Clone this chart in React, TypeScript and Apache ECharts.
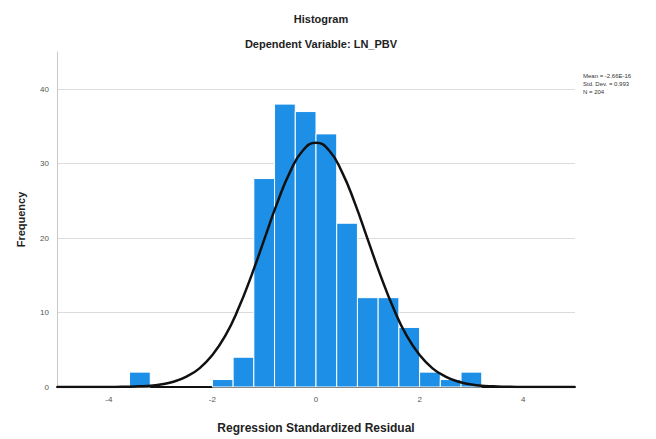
import React, { useEffect, useRef } from "react";
import * as echarts from "echarts";

const binStarts = [-3.6, -2.0, -1.6, -1.2, -0.8, -0.4, 0.0, 0.4, 0.8, 1.2, 1.6, 2.0, 2.4, 2.8];
const binCounts = [2, 1, 4, 28, 38, 37, 34, 22, 12, 12, 8, 2, 1, 2];
const binWidth = 0.4;

const curveX = [-5, -4.5, -4, -3.75, -3.5, -3.25, -3, -2.75, -2.5, -2.25, -2, -1.75, -1.5, -1.25, -1, -0.75, -0.5, -0.25, 0,
  0.25, 0.5, 0.75, 1, 1.25, 1.5, 1.75, 2, 2.25, 2.5, 2.75, 3, 3.25, 3.5, 3.75, 4, 4.5, 5];
const curveY = [0, 0, 0.01, 0.03, 0.07, 0.15, 0.34, 0.71, 1.4, 2.5, 4.3, 6.9, 10.5, 14.9, 19.8, 24.7, 28.9, 31.8, 32.8,
  31.8, 28.9, 24.7, 19.8, 14.9, 10.5, 6.9, 4.3, 2.5, 1.4, 0.71, 0.34, 0.15, 0.07, 0.03, 0.01, 0, 0];

const statsLines = ["Mean = -2.66E-16", "Std. Dev. = 0.993", "N = 204"];
const titleText = "Histogram";
const subtitleText = "Dependent Variable: LN_PBV";
const xName = "Regression Standardized Residual";
const yName = "Frequency";

const FONT = "'Liberation Sans', Arial, sans-serif";

export default function App() {
  const ref = useRef<HTMLDivElement>(null);
  useEffect(() => {
    if (!ref.current) return;
    const chart = echarts.init(ref.current, null, { renderer: "svg" });
    const barData = binStarts.map((s, i) => [s, +(s + binWidth).toFixed(2), binCounts[i]]);
    const lineData = curveX.map((x, i) => [x, curveY[i]]);
    chart.setOption({
      animation: false,
      backgroundColor: "#ffffff",
      textStyle: { fontFamily: FONT },
      title: [
        {
          text: titleText,
          left: 316,
          top: 8,
          textAlign: "center",
          textStyle: { fontSize: 11, fontWeight: "bold", color: "#222", fontFamily: FONT },
        },
        {
          text: subtitleText,
          left: 316,
          top: 33,
          textAlign: "center",
          textStyle: { fontSize: 11, fontWeight: "bold", color: "#222", fontFamily: FONT },
        },
      ],
      grid: { left: 57, right: 81, top: 52, bottom: 49, containLabel: false },
      xAxis: {
        type: "value",
        min: -5,
        max: 5,
        interval: 1,
        name: xName,
        nameLocation: "middle",
        nameGap: 35,
        nameTextStyle: { fontSize: 12, fontWeight: "bold", color: "#222", fontFamily: FONT },
        axisLine: { show: true, onZero: false, lineStyle: { color: "#111", width: 2 } },
        axisTick: { show: false },
        splitLine: { show: false },
        axisLabel: {
          fontSize: 8,
          color: "#555",
          margin: 8,
          fontFamily: FONT,
          formatter: (v: number) => (Math.round(v) % 2 === 0 ? String(Math.round(v)) : ""),
        },
      },
      yAxis: {
        type: "value",
        min: 0,
        max: 45,
        interval: 10,
        name: yName,
        nameLocation: "middle",
        nameGap: 31,
        nameTextStyle: { fontSize: 11, fontWeight: "bold", color: "#222", fontFamily: FONT },
        axisLine: { show: true, onZero: false, lineStyle: { color: "#c8c8c8", width: 1 } },
        axisTick: { show: false },
        splitLine: { show: true, showMaxLine: false, showMinLine: false, lineStyle: { color: "#dcdcdc", width: 1 } },
        axisLabel: {
          fontSize: 8,
          color: "#555",
          margin: 8,
          fontFamily: FONT,
          showMaxLabel: false,
          formatter: (v: number) => (v % 10 === 0 ? String(v) : ""),
        },
      },
      graphic: statsLines.map((t, i) => ({
        type: "text",
        left: 583,
        top: 73 + i * 8,
        style: { text: t, fontSize: 6, fill: "#333", fontFamily: FONT },
      })),
      series: [
        {
          type: "custom",
          encode: { x: [0, 1], y: 2 },
          data: barData,
          z: 2,
          renderItem: (params: any, api: any) => {
            const tl = api.coord([api.value(0), api.value(2)]);
            const br = api.coord([api.value(1), 0]);
            return {
              type: "rect",
              shape: { x: tl[0], y: tl[1], width: br[0] - tl[0], height: br[1] - tl[1] },
              style: { fill: "#1e8fe6", stroke: "#ffffff", lineWidth: 1 },
            };
          },
        },
        {
          type: "line",
          data: lineData,
          smooth: true,
          showSymbol: false,
          z: 5,
          lineStyle: { color: "#111", width: 2.5 },
        },
      ],
    });
    return () => chart.dispose();
  }, []);
  return (
    <div
      ref={ref}
      style={{ position: "absolute", left: 0, top: 0, width: 656, height: 439 }}
    />
  );
}
